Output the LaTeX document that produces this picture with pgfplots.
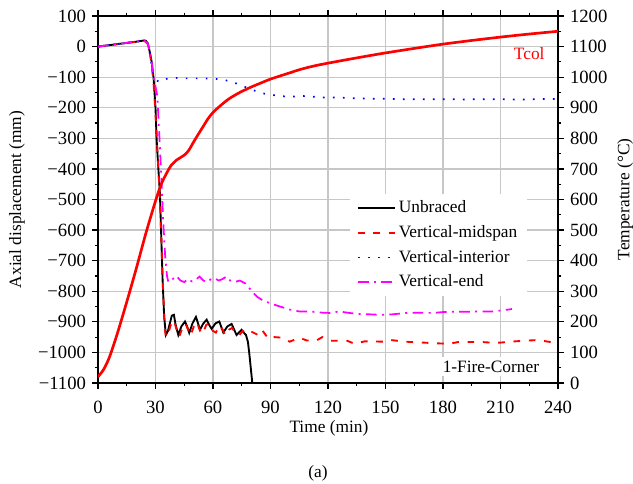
\documentclass[border=0pt]{standalone}
\usepackage{fontspec}
\setmainfont{Liberation Serif}
\usepackage{pgfplots}
\pgfplotsset{compat=1.18}
\definecolor{cRed}{RGB}{255,0,0}
\definecolor{cBlue}{RGB}{0,0,255}
\definecolor{cMag}{RGB}{255,0,255}
\begin{document}
\fontsize{13pt}{15.6pt}\selectfont
\begin{tikzpicture}
\useasboundingbox (-73.5pt,-75.75pt) rectangle (401.25pt,287.25pt);
\begin{axis}[
  scale only axis, width=345pt, height=275.25pt,
  xmin=0, xmax=240, ymin=-1100, ymax=100,
  xtick={0,30,...,240}, minor x tick num=1,
  ytick={-1100,-1000,...,100}, minor y tick num=1,
  yticklabels={−1100,−1000,−900,−800,−700,−600,−500,−400,−300,−200,−100,0,100},
  ytick pos=left,
  tick align=outside, major tick length=4.5pt, minor tick length=2.5pt,
  /pgf/number format/assume math mode=true,
  tick label style={font=\fontsize{14pt}{16pt}\selectfont},
  xticklabel style={yshift=-4.5pt},
  axis line style={line width=1.1pt}, every tick/.style={black, line width=0.9pt},
  grid=major, major grid style={black!22, line width=0.9pt},
  xlabel={Time (min)}, ylabel={Axial displacement (mm)},
  xlabel style={at={(axis description cs:0.502,-0.124)}, anchor=center},
  ylabel style={at={(axis description cs:-0.176,0.5)}, anchor=center},
  legend style={at={(axis description cs:0.548,0.515)}, anchor=north west, draw=none, fill=white,
     font=\fontsize{13pt}{15pt}\selectfont, row sep=3.5pt, inner xsep=5pt, inner ysep=3pt},
  legend cell align=left,
  legend image code/.code={\draw[#1] (0pt,0pt) -- (25pt,0pt); \path (0pt,0pt) -- (28pt,0pt);},
  clip=true,
]
\addplot[color=black, line width=1.4pt] coordinates {
(0,0) (5,4) (10,8) (15,12) (20,16) (24,20) (25,19) (26,10) (27,-17) (28,-50) (29,-103) (30,-200) (30.6,-305) (31.5,-400) (32.3,-480) (33,-620) (33.7,-762) (34.5,-880) (35.4,-943) (36.5,-930) (37.5,-905) (38.5,-880) (39.6,-877) (40.5,-910) (41.9,-943) (43.5,-915) (45.4,-899) (46.5,-915) (47.6,-936) (49.3,-905) (51.1,-884) (52.2,-905) (53.2,-926) (55,-905) (56.7,-893) (58,-910) (59.3,-923) (61.3,-905) (63.3,-899) (64.4,-918) (65.4,-935) (67.5,-915) (69.7,-907) (71,-925) (72.3,-943) (73.5,-935) (74.9,-926) (76,-935) (77.2,-943) (78.2,-965) (78.9,-1001) (79.7,-1050) (80.5,-1100)
};
\addlegendentry{Unbraced}
\addplot[color=cRed, line width=1.4pt, dash pattern=on 5pt off 6.5pt] coordinates {
(0,0) (5,4) (10,8) (15,12) (20,16) (24,20) (26,8) (27,-20) (28,-60) (29,-120) (30,-220) (31,-340) (32,-460) (33,-620) (34,-800) (34.8,-920) (35.5,-950) (37,-930) (38.5,-900) (39.6,-895) (41,-925) (42.3,-950) (44,-920) (45.5,-905) (47,-925) (48.3,-945) (50,-915) (51.5,-900) (53,-925) (54.5,-940) (56.5,-910) (58,-905) (60,-930) (61.5,-935) (63.5,-912) (65,-925) (66.5,-945) (68.5,-925) (70,-920) (72,-940) (73.5,-945) (75.5,-930) (77,-935) (78.5,-940) (80,-932) (83.5,-943) (85.5,-926) (89,-956) (92,-950) (96.5,-952) (100,-965) (105,-952) (109,-961) (114,-961) (117,-950) (122,-962) (126,-962) (130,-962) (134,-972) (139,-964) (143,-964) (149,-965) (152,-959) (159,-964) (163,-966) (170,-968) (176,-970) (183,-972) (188,-966) (195,-966) (200,-966) (205,-968) (210,-968) (215,-965) (222,-962) (228,-960) (232,-962) (237,-967) (240,-966)
};
\addlegendentry{Vertical-midspan}
\addplot[color=cBlue, line width=1.3pt, dash pattern=on 1.2pt off 6.3pt] coordinates {
(0,0) (5,4) (10,8) (15,12) (20,16) (24,20) (26,10) (27,-20) (28,-60) (29,-95) (30,-105) (31,-112) (32,-116) (34,-110) (36,-105) (40,-102) (45,-104) (50,-104) (55,-104) (60,-105) (65,-108) (70,-115) (75,-128) (80,-140) (85,-152) (90,-157) (95,-162) (100,-164) (110,-161) (115,-167) (120,-166) (130,-168) (140,-170) (150,-171) (160,-172) (170,-172) (180,-172) (190,-173) (200,-172) (210,-172) (220,-173) (230,-172) (240,-171)
};
\addlegendentry{Vertical-interior}
\addplot[color=cMag, line width=1.3pt, dash pattern=on 8pt off 4pt on 1.5pt off 4pt] coordinates {
(0,0) (5,4) (10,8) (15,12) (20,16) (24,20) (26,10) (27,-15) (28,-50) (29,-100) (30,-130) (31,-165) (32,-290) (33,-420) (34,-570) (35,-680) (36,-750) (36.7,-770) (39,-760) (41,-750) (43,-765) (45,-770) (47,-760) (49,-768) (51,-762) (53,-752) (55,-765) (57,-770) (59,-760) (61,-758) (63,-765) (65,-760) (67,-752) (69,-765) (71,-770) (74,-765) (77,-775) (79,-790) (81,-805) (83,-818) (86,-830) (90,-840) (95,-850) (100,-860) (105,-866) (110,-866) (117,-870) (121,-871) (126,-866) (130,-870) (135,-874) (140,-875) (147,-877) (151,-877) (156,-874) (161,-871) (168,-870) (175,-871) (180,-868) (186,-867) (192,-867) (200,-866) (206,-866) (210,-863) (214,-860) (216,-858)
};
\addlegendentry{Vertical-end}
\node[text=cRed, font=\fontsize{13pt}{15pt}\selectfont] at (axis cs:225,-24) {Tcol};
\node[fill=white, inner xsep=5pt, inner ysep=3pt, font=\fontsize{13pt}{15pt}\selectfont] at (axis cs:205,-1046) {1-Fire-Corner};
\end{axis}
\begin{axis}[
  scale only axis, width=345pt, height=275.25pt,
  xmin=0, xmax=240, ymin=0, ymax=1200,
  axis x line=none, axis y line*=right,
  ytick={0,100,...,1200}, minor y tick num=1,
  tick align=outside, major tick length=4.5pt, minor tick length=2.5pt,
  /pgf/number format/assume math mode=true, /pgf/number format/1000 sep={},
  tick label style={font=\fontsize{14pt}{16pt}\selectfont},
  axis line style={line width=1.1pt, -}, every tick/.style={black, line width=0.9pt},
  ylabel={Temperature (°C)},
  ylabel style={at={(axis description cs:1.146,0.5)}, anchor=center},
]
\addplot[color=cRed, line width=2pt, smooth] coordinates {
(0,20) (3,45) (6,85) (10,160) (15,265) (20,375) (25,490) (30,595) (33,650) (35.8,686) (38,710) (41,729) (43,737) (45.4,747) (47.5,762) (49.6,785) (52,810) (54.8,838) (57.5,865) (60.2,886) (63,902) (66,918) (69,932) (74,950) (79.3,966) (85,981) (89.7,993) (95,1004) (100,1014) (105.4,1025) (113,1037) (121,1047) (135,1063) (148.8,1078) (165,1094) (180,1108) (195,1120) (211.4,1132) (225,1141) (240,1150)
};
\end{axis}
\node[font=\fontsize{13pt}{15pt}\selectfont] at (165pt,-67.5pt) {(a)};
\end{tikzpicture}
\end{document}
